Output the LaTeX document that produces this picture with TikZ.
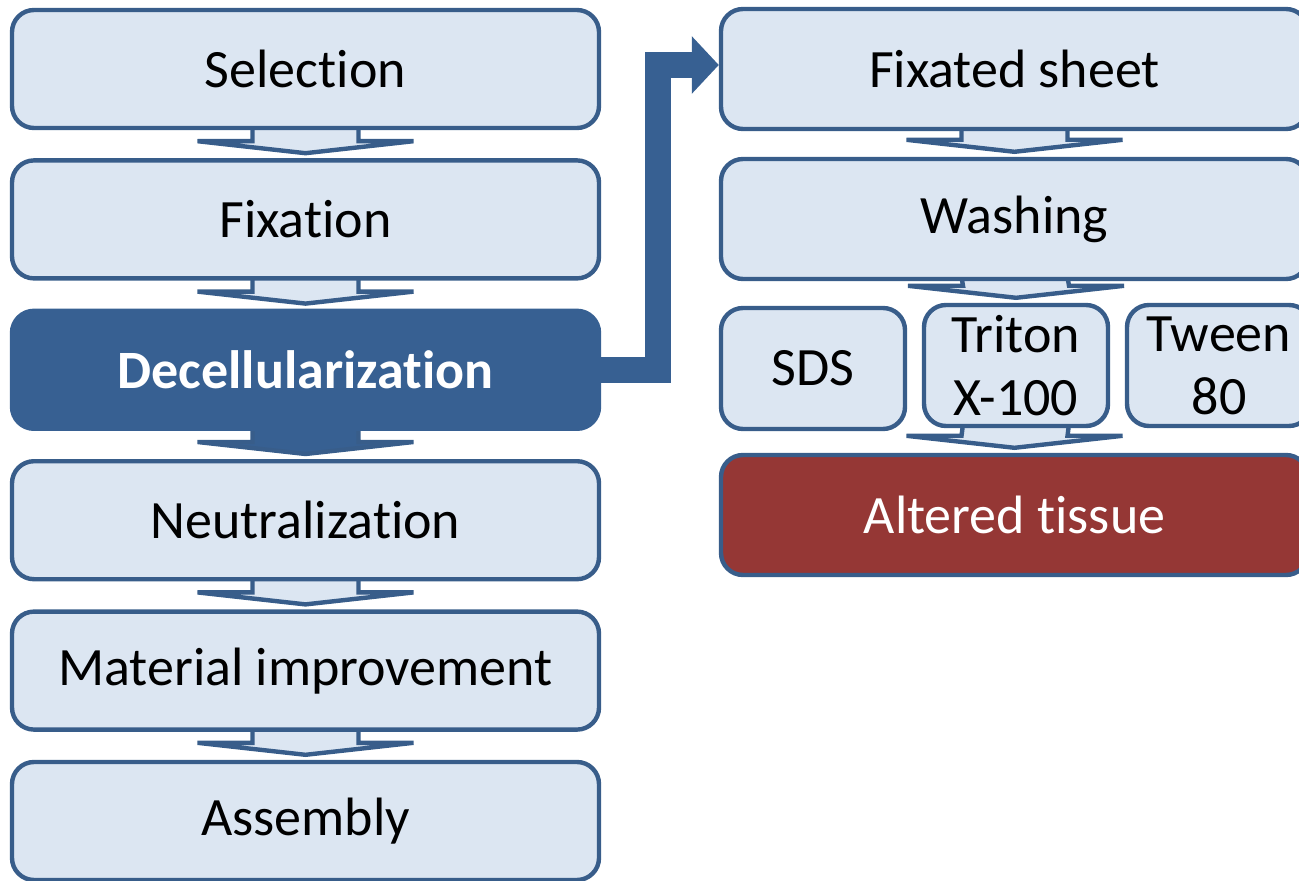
\documentclass[tikz,border=0pt]{standalone}
\usepackage{fontspec}
\setmainfont{Carlito}[Ligatures={NoCommon,NoContextual}]
\usetikzlibrary{arrows.meta,backgrounds}
\definecolor{boxfill}{HTML}{DCE6F2}
\definecolor{boxline}{HTML}{385D8A}
\definecolor{decfill}{HTML}{376092}
\definecolor{altfill}{HTML}{953735}
\tikzset{stepbox/.style={draw=boxline, fill=boxfill, line width=2.2pt, rounded corners=11pt,
  minimum width=293.5pt, minimum height=59pt, inner sep=0pt, align=center,
  font=\fontsize{27}{31.5}\selectfont}}
\tikzset{agentbox/.style={stepbox, minimum width=92pt, minimum height=60.5pt}}
\tikzset{flowarrow/.style={draw=boxline, fill=boxfill, line width=2.2pt}}

\begin{document}
\begin{tikzpicture}[x=0.5pt, y=-0.5pt,
  link/.style={draw=decfill, line width=13pt, -{Triangle[length=13.5pt, width=28pt]}}]
\clip (0,0) rectangle (1299,881);
% process steps
\node[stepbox] (sel) at (305.5,69) {Selection};
\node[stepbox] (fix) at (305.5,219.4) {Fixation};
\node[stepbox, fill=decfill, draw=decfill, text=white] (dec) at (305.5,369.8) {\bfseries Decellularization};
\node[stepbox] (neu) at (305.5,520.2) {Neutralization};
\node[stepbox] (mat) at (305.5,670.6) {Material improvement};
\node[stepbox] (asm) at (305.5,821) {Assembly};
% decellularization detail
\node[stepbox, minimum height=60pt] (fsh) at (1014.5,69) {Fixated sheet};
\node[stepbox, minimum height=60pt] (wsh) at (1014.5,219) {Washing};
\node[agentbox] (sds) at (813,368.5) {SDS};
\node[agentbox] (tri) at (1016,365.5) {Triton\\X-100};
\node[agentbox] (twe) at (1219,365.5) {Tween\\80};
\node[stepbox, minimum height=60pt, fill=altfill, text=white] (alt) at (1014.5,515) {Altered tissue};
\begin{scope}[on background layer]
\foreach \a/\b in {sel/fix, fix/dec, neu/mat, mat/asm, fsh/wsh, wsh/tri, tri/alt}
  \draw[flowarrow] ([xshift=-26.5pt,yshift=2pt]\a.south) -- ([xshift=-26.5pt,yshift=8.5pt]\b.north)
    -- ([xshift=-54pt,yshift=8.5pt]\b.north) -- ([yshift=2.5pt]\b.north)
    -- ([xshift=54pt,yshift=8.5pt]\b.north) -- ([xshift=26.5pt,yshift=8.5pt]\b.north)
    -- ([xshift=26.5pt,yshift=2pt]\a.south);
\draw[flowarrow, fill=decfill] ([xshift=-26.5pt,yshift=2pt]dec.south) -- ([xshift=-26.5pt,yshift=8.5pt]neu.north)
  -- ([xshift=-54pt,yshift=8.5pt]neu.north) -- ([yshift=2.5pt]neu.north)
  -- ([xshift=54pt,yshift=8.5pt]neu.north) -- ([xshift=26.5pt,yshift=8.5pt]neu.north)
  -- ([xshift=26.5pt,yshift=2pt]dec.south);
\draw[link] (dec.east) -| ([xshift=-30.5pt,yshift=2pt]fsh.west) -- ([yshift=2pt]fsh.west);
\end{scope}
\end{tikzpicture}
\end{document}
